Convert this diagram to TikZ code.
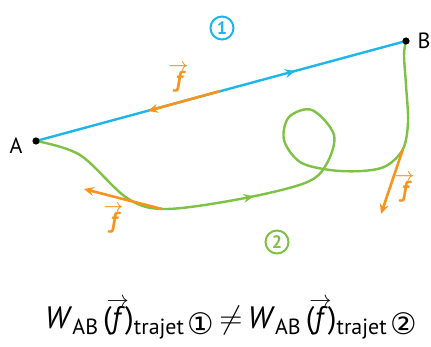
\documentclass[tikz,border=0pt]{standalone}
\usepackage{amsmath}
\usepackage{fontspec}
\setmainfont{PT Sans}
\newfontfamily\djv{DejaVu Sans}
\usetikzlibrary{arrows.meta,decorations.markings}
\definecolor{cblue}{HTML}{1DB5EC}
\definecolor{cgreen}{HTML}{7DC243}
\definecolor{corange}{HTML}{F7941D}
\newcommand\fvec{\textit{f}\makebox[0pt][r]{\raisebox{0.7em}{$\scriptstyle\rightarrow$}\kern-0.12em}}
\newcommand\fbvec{\textbf{\textit{f}}\makebox[0pt][r]{\raisebox{0.72em}{$\scriptstyle\boldsymbol{\rightarrow}$}\kern-0.1em}}
\newcommand\lowsub[1]{\raisebox{-5pt}{\fontsize{17}{17}\selectfont #1}}
\newcommand\circnum[1]{{\fontsize{23}{23}\selectfont\djv #1}}
\begin{document}
\begin{tikzpicture}[x=1pt,y=-1pt,
  ptlabel/.style={font=\fontsize{22}{24}\selectfont},
  blueline/.style={cblue,line width=2.4pt},
  greenline/.style={cgreen,line width=2.4pt},
  force/.style={corange,line width=2.6pt,-{Stealth[length=10pt,width=9pt,inset=3.5pt]}},
  flabel/.style={corange,font=\fontsize{23}{24}\selectfont},
  midarrow/.style={postaction={decorate,decoration={markings,
     mark=at position #1 with {\arrow{Stealth[length=10pt,width=9pt,inset=3.5pt]}}}}},
  numcircle/.style={circle,draw,line width=2pt,minimum size=23pt,inner sep=0pt,
     font=\fontsize{18}{18}\selectfont\bfseries}
]
\useasboundingbox (0,0) rectangle (431,347);
\coordinate (A) at (36,141);
\coordinate (B) at (406,41);
\node[ptlabel] (Alab) at (16,146) {A};
\node[ptlabel] (Blab) at (424,41) {B};
% path 1
\draw[blueline,midarrow=0.7] (A) -- (B);
% path 2
\coordinate (g1) at (80,155);
\coordinate (g2) at (127,198);
\coordinate (g3) at (165,209);
\coordinate (g4) at (240,199);
\coordinate (g5) at (305,183);
\coordinate (g6) at (326,165);
\coordinate (g7) at (334,135);
\coordinate (g8) at (312,110);
\coordinate (g9) at (289,117);
\coordinate (g10) at (284,140);
\coordinate (g11) at (300,162);
\coordinate (g12) at (330,170);
\coordinate (g13) at (362,171);
\coordinate (g14) at (386,166);
\coordinate (g15) at (403,149);
\coordinate (g16) at (408,122);
\coordinate (g17) at (406,85);
\coordinate (g18) at (404,55);
\draw[greenline,midarrow=0.35] plot[smooth,tension=0.55] coordinates
  {(A) (g1) (g2) (g3) (g4) (g5) (g6) (g7) (g8) (g9) (g10) (g11) (g12) (g13) (g14) (g15) (g16) (g17) (g18) (B)};
\fill (A) circle (3.6pt);
\fill (B) circle (3.6pt);
% forces
\coordinate (f1s) at (220,91);
\coordinate (f1e) at (148,111);
\draw[force] (f1s) -- (f1e);
\coordinate (f2s) at (162,209);
\coordinate (f2e) at (84,189);
\draw[force] (f2s) -- (f2e);
\coordinate (f3e) at (381,214);
\draw[force] (g15) -- (f3e);
\node[flabel] (fl1) at (181,78) {\fbvec};
\node[flabel] (fl2) at (116,219) {\fbvec};
\node[flabel] (fl3) at (407,188) {\fbvec};
% numbers
\node[numcircle,cblue] (n1) at (222,28) {1};
\node[numcircle,cgreen] (n2) at (277,242) {2};
% formula
\node[anchor=base,inner sep=0pt] (form) at (231,328)
 {\resizebox{372pt}{!}{\fontsize{24}{28}\selectfont
  \textit{W}\lowsub{AB}\hspace{4pt}(\fvec)\lowsub{trajet\,\circnum{①}}\,$\neq$\,\textit{W}\lowsub{AB}\hspace{4pt}(\fvec)\lowsub{trajet\,\circnum{②}}}};
\end{tikzpicture}
\end{document}
